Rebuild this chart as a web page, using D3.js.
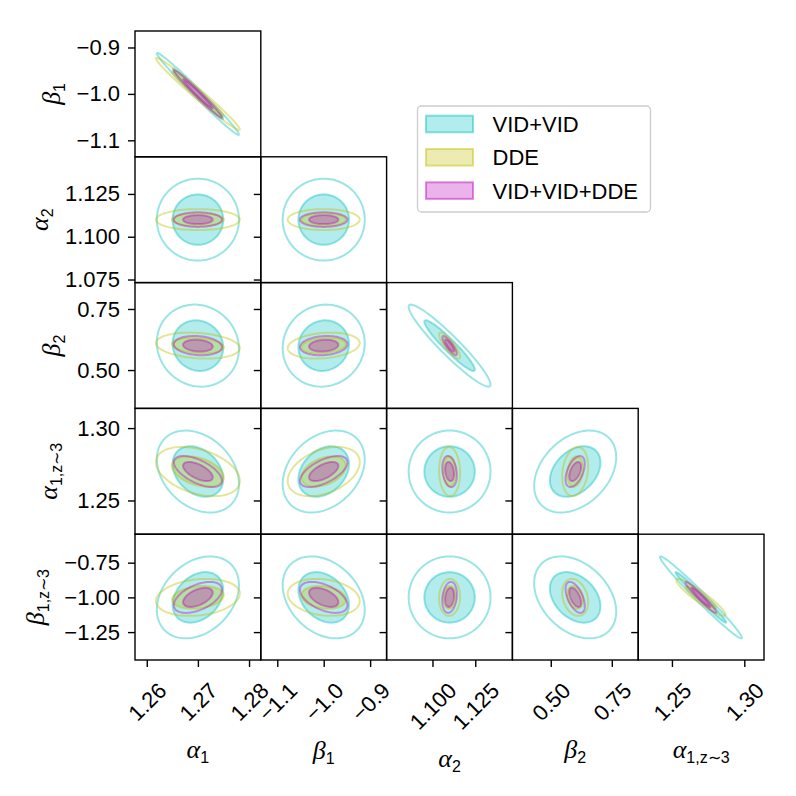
<!DOCTYPE html>
<html lang="en">
<head>
<meta charset="UTF-8">
<title>Corner plot</title>
<style>
  body { margin: 0; background: #fff; }
  text { font-family: "Liberation Sans", Arial, sans-serif; }
</style>
</head>
<body>
<div id="corner"></div>
<script src="https://d3js.org/d3.v7.min.js"></script>
<script>
// parameters: greek letter + subscript
var paramGreek = ["α", "β", "α", "β", "α", "β"];
var paramSub = ["1", "1", "2", "2", "1,z∼3", "1,z∼3"];

// axis ranges of every parameter
var ranges = [[1.2577, 1.2823], [-1.1355, -0.8645], [1.0732, 1.1467],
              [0.343, 0.858], [1.2267, 1.3136], [-1.451, -0.545]];

// ticks along the bottom row and the left column
var xTicks = [[1.26, 1.27, 1.28], [-1.1, -1.0, -0.9], [1.100, 1.125], [0.50, 0.75], [1.25, 1.30]];
var yTicks = [null, [-0.9, -1.0, -1.1], [1.075, 1.100, 1.125], [0.50, 0.75], [1.25, 1.30], [-0.75, -1.00, -1.25]];
var tickFmt = [".2f", ".1f", ".3f", ".2f", ".2f", ".2f"];

// forecasts
var seriesNames = ["VID+VID", "DDE", "VID+VID+DDE"];
var seriesColors = ["#00bfbf", "#bfbf00", "#bf00bf"];
var means = [1.270, -1.000, 1.110, 0.600, 1.270, -1.000];

var sigmaVV = [0.00328, 0.0361, 0.00977, 0.0686, 0.01156, 0.1206];
var sigmaDDE = [0.00335, 0.0317, 0.00250, 0.0217, 0.00694, 0.0544];
var sigmaAll = [0.00192, 0.0209, 0.00174, 0.0161, 0.00437, 0.0456];

// correlation coefficients, lower triangle (row i, columns 0..i-1)
var corrVV = [[], [-0.99], [0.0, 0.0], [-0.08, 0.06, -0.945],
              [-0.3, 0.3, 0.0, 0.35], [0.3, -0.3, 0.0, -0.35, -0.985]];
var corrDDE = [[], [-0.985], [0.0, 0.0], [-0.2, 0.2, -0.85],
               [-0.38, 0.38, -0.05, 0.2], [0.2, -0.2, 0.05, -0.25, -0.93]];
var corrAll = [[], [-0.985], [0.0, 0.0], [-0.15, 0.15, -0.85],
               [-0.6, 0.6, -0.25, 0.5], [0.5, -0.5, 0.2, -0.55, -0.97]];

// confidence levels: outer line only, inner filled
var levels = [0.95, 0.68];

var sigmas = [sigmaVV, sigmaDDE, sigmaAll];
var corrs = [corrVV, corrDDE, corrAll];

var W = 796, H = 796;
var gridLeft = 135, gridTop = 31, size = 125.8;
var fs = 22, tickLen = 7, tickPad = 8;

var svg = d3.select("#corner").append("svg")
    .attr("width", W).attr("height", H);

function radius(p) { return Math.sqrt(-2 * Math.log(1 - p)); }

function ellipse(s, i, j, k) {
    var sx = sigmas[s][j], sy = sigmas[s][i], rho = corrs[s][i][j];
    var pts = [];
    for (var n = 0; n < 120; n++) {
        var t = 2 * Math.PI * n / 120;
        pts.push([means[j] + k * sx * Math.cos(t),
                  means[i] + k * sy * (rho * Math.cos(t) + Math.sqrt(1 - rho * rho) * Math.sin(t))]);
    }
    return pts;
}

function addLabel(sel, idx) {
    sel.append("tspan").text(paramGreek[idx])
        .attr("font-family", "Liberation Serif").attr("font-style", "italic").attr("font-size", 26);
    sel.append("tspan").text(paramSub[idx])
        .attr("font-family", "Liberation Sans").attr("font-size", 16).attr("dy", 5);
}

var diag = Math.SQRT2;

for (var i = 1; i < 6; i++) {
    for (var j = 0; j < i; j++) {
        var r = i - 1, c = j;
        var px = gridLeft + c * size, py = gridTop + r * size;
        var g = svg.append("g").attr("transform", "translate(" + px + "," + py + ")");
        var x = d3.scaleLinear().domain(ranges[j]).range([0, size]);
        var y = d3.scaleLinear().domain(ranges[i]).range([size, 0]);
        var line = d3.line().x(function (d) { return x(d[0]); })
            .y(function (d) { return y(d[1]); }).curve(d3.curveLinearClosed);

        var cid = "clip-" + i + "-" + j;
        g.append("clipPath").attr("id", cid).append("rect")
            .attr("width", size).attr("height", size);
        var body = g.append("g").attr("clip-path", "url(#" + cid + ")");

        seriesNames.forEach(function (name, s) {
            levels.forEach(function (p, l) {
                body.append("path")
                    .attr("d", line(ellipse(s, i, j, radius(p))))
                    .attr("fill", l === 1 ? seriesColors[s] : "none")
                    .attr("fill-opacity", 0.3)
                    .attr("stroke", seriesColors[s])
                    .attr("stroke-opacity", 0.4)
                    .attr("stroke-width", 2);
            });
        });

        // y axis (ticks on every panel, labels in first column)
        var ya = g.append("g").call(d3.axisLeft(y).tickValues(yTicks[i])
            .tickSize(tickLen).tickPadding(tickPad)
            .tickFormat(c === 0 ? d3.format(tickFmt[i]) : ""));
        ya.select(".domain").remove();
        ya.attr("font-size", fs).attr("font-family", "Liberation Sans");
        ya.selectAll(".tick line").attr("stroke-width", 1.4);

        if (c === 0) {
            var maxW = 0;
            ya.selectAll(".tick text").each(function () {
                maxW = Math.max(maxW, this.getComputedTextLength());
            });
            var desc = paramSub[i].indexOf(",") >= 0 ? 8 : 5;
            var bx = px - tickLen - tickPad - maxW - 12 - desc;
            var yl = svg.append("text")
                .attr("text-anchor", "middle")
                .attr("transform", "translate(" + bx + "," + (py + size / 2) + ") rotate(-90)");
            addLabel(yl, i);
        }

        // x axis on the bottom row
        if (r === 4) {
            var xa = g.append("g").attr("transform", "translate(0," + size + ")")
                .call(d3.axisBottom(x).tickValues(xTicks[j]).tickSize(tickLen)
                    .tickFormat(d3.format(tickFmt[j])));
            xa.select(".domain").remove();
            xa.attr("font-size", fs).attr("font-family", "Liberation Sans");
            xa.selectAll(".tick line").attr("stroke-width", 1.4);
            var bottom = 0;
            xa.selectAll(".tick text").each(function () {
                var w = this.getComputedTextLength();
                var half = (w + 0.72 * fs) / (2 * diag);
                var cy = 21 + half;
                d3.select(this).attr("x", 0).attr("y", 0).attr("dy", "0.35em")
                    .attr("text-anchor", "middle")
                    .attr("transform", "translate(0," + cy + ") rotate(-45)");
                bottom = Math.max(bottom, cy + half);
            });
            var xl = svg.append("text")
                .attr("text-anchor", "middle")
                .attr("x", px + size / 2)
                .attr("y", py + size + bottom + 36);
            addLabel(xl, j);
        }

        g.append("rect").attr("width", size).attr("height", size)
            .attr("fill", "none").attr("stroke", "#000").attr("stroke-width", 1.4);
    }
}

// legend
var lg = svg.append("g").attr("transform", "translate(417.5,106)");
lg.append("rect").attr("width", 233).attr("height", 106).attr("rx", 4)
    .attr("fill", "#fff").attr("fill-opacity", 0.8)
    .attr("stroke", "#cccccc").attr("stroke-width", 1.3);
seriesNames.forEach(function (name, s) {
    var cy = 18 + s * 33.3;
    lg.append("rect").attr("x", 8.5).attr("y", cy - 8.3).attr("width", 47).attr("height", 16.6)
        .attr("fill", seriesColors[s]).attr("fill-opacity", 0.3)
        .attr("stroke", seriesColors[s]).attr("stroke-opacity", 0.45).attr("stroke-width", 2);
    lg.append("text").attr("x", 75).attr("y", cy).attr("dy", "0.36em")
        .attr("font-size", fs).text(name);
});
</script>
</body>
</html>
